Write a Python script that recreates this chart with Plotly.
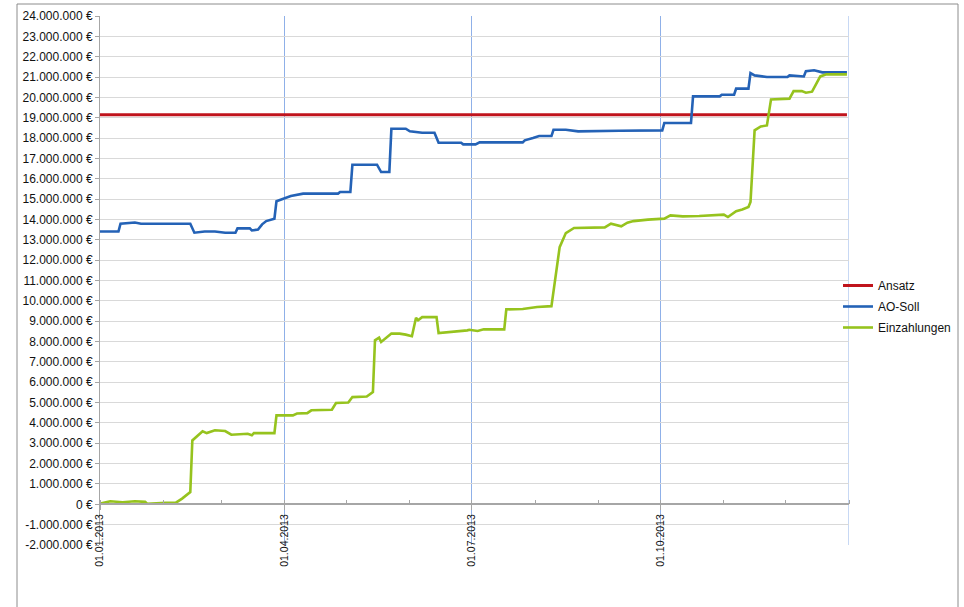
import plotly.graph_objects as go

# ---------------- data ----------------
ansatz_dates = ["2013-01-01", "2013-12-31"]
ansatz_values = [19150000, 19150000]

ao_soll_dates = [
    "2013-01-01", "2013-01-10", "2013-01-11", "2013-01-18", "2013-01-21", "2013-02-14",
    "2013-02-16", "2013-02-21", "2013-02-26", "2013-03-03", "2013-03-08", "2013-03-09",
    "2013-03-15", "2013-03-16", "2013-03-19", "2013-03-21", "2013-03-23", "2013-03-27",
    "2013-03-28", "2013-03-30", "2013-04-04", "2013-04-10", "2013-04-27", "2013-04-28",
    "2013-05-03", "2013-05-04", "2013-05-16", "2013-05-18", "2013-05-22", "2013-05-23",
    "2013-05-30", "2013-06-01", "2013-06-07", "2013-06-13", "2013-06-15", "2013-06-26",
    "2013-06-27", "2013-07-03", "2013-07-05", "2013-07-26", "2013-07-27", "2013-07-31",
    "2013-08-03", "2013-08-09", "2013-08-10", "2013-08-16", "2013-08-22", "2013-09-11",
    "2013-10-02", "2013-10-03", "2013-10-16", "2013-10-17", "2013-10-30", "2013-10-31",
    "2013-11-06", "2013-11-07", "2013-11-13", "2013-11-14", "2013-11-16", "2013-11-22",
    "2013-12-02", "2013-12-03", "2013-12-10", "2013-12-11", "2013-12-15", "2013-12-19",
    "2013-12-31",
]
ao_soll_values = [
    13410000, 13410000, 13790000, 13850000, 13790000, 13790000,
    13350000, 13410000, 13410000, 13350000, 13350000, 13560000,
    13560000, 13460000, 13500000, 13760000, 13920000, 14040000,
    14900000, 14970000, 15150000, 15270000, 15270000, 15350000,
    15350000, 16690000, 16690000, 16330000, 16330000, 18460000,
    18460000, 18330000, 18260000, 18260000, 17770000, 17770000,
    17690000, 17690000, 17790000, 17790000, 17890000, 18000000,
    18100000, 18100000, 18410000, 18410000, 18330000, 18360000,
    18380000, 18740000, 18740000, 20050000, 20050000, 20130000,
    20130000, 20430000, 20430000, 21190000, 21080000, 21000000,
    21000000, 21080000, 21030000, 21290000, 21330000, 21230000,
    21230000,
]

einzahlungen_dates = [
    "2013-01-01", "2013-01-06", "2013-01-12", "2013-01-18", "2013-01-23", "2013-01-24",
    "2013-02-02", "2013-02-07", "2013-02-10", "2013-02-14", "2013-02-15", "2013-02-20",
    "2013-02-22", "2013-02-26", "2013-03-03", "2013-03-06", "2013-03-14", "2013-03-16",
    "2013-03-17", "2013-03-27", "2013-03-28", "2013-04-05", "2013-04-07", "2013-04-12",
    "2013-04-14", "2013-04-24", "2013-04-26", "2013-05-02", "2013-05-04", "2013-05-11",
    "2013-05-14", "2013-05-15", "2013-05-17", "2013-05-18", "2013-05-23", "2013-05-27",
    "2013-05-30", "2013-06-02", "2013-06-04", "2013-06-05", "2013-06-07", "2013-06-14",
    "2013-06-15", "2013-06-22", "2013-06-29", "2013-06-30", "2013-07-04", "2013-07-07",
    "2013-07-17", "2013-07-18", "2013-07-26", "2013-08-02", "2013-08-09", "2013-08-13",
    "2013-08-14", "2013-08-16", "2013-08-20", "2013-09-04", "2013-09-07", "2013-09-09",
    "2013-09-12", "2013-09-15", "2013-09-18", "2013-09-25", "2013-10-03", "2013-10-06",
    "2013-10-12", "2013-10-20", "2013-10-29", "2013-11-01", "2013-11-03", "2013-11-07",
    "2013-11-10", "2013-11-13", "2013-11-14", "2013-11-16", "2013-11-19", "2013-11-22",
    "2013-11-24", "2013-12-03", "2013-12-05", "2013-12-09", "2013-12-11", "2013-12-14",
    "2013-12-18", "2013-12-21", "2013-12-31",
]
einzahlungen_values = [
    30000, 150000, 100000, 150000, 120000, 30000,
    70000, 80000, 280000, 600000, 3140000, 3590000,
    3500000, 3640000, 3600000, 3420000, 3470000, 3390000,
    3500000, 3500000, 4370000, 4370000, 4460000, 4480000,
    4620000, 4650000, 4980000, 5000000, 5270000, 5300000,
    5520000, 8060000, 8190000, 7980000, 8390000, 8390000,
    8340000, 8260000, 9170000, 9050000, 9200000, 9200000,
    8420000, 8470000, 8550000, 8580000, 8520000, 8600000,
    8600000, 9580000, 9600000, 9700000, 9740000, 12640000,
    12890000, 13330000, 13580000, 13610000, 13790000, 13740000,
    13660000, 13840000, 13920000, 13990000, 14040000, 14200000,
    14150000, 14170000, 14200000, 14240000, 14120000, 14410000,
    14490000, 14610000, 14860000, 18380000, 18570000, 18620000,
    19900000, 19940000, 20310000, 20310000, 20230000, 20280000,
    21030000, 21130000, 21130000,
]

x_tick_dates = ["2013-01-01", "2013-04-01", "2013-07-01", "2013-10-01"]
x_tick_labels = ["01.01.2013", "01.04.2013", "01.07.2013", "01.10.2013"]
x_range = ["2013-01-01", "2014-01-01"]

y_tick_values = [v * 1000000 for v in range(-2, 25)]
y_range = [-2000000, 24000000]


def euro_label(v):
    s = f"{abs(v):,}".replace(",", ".")
    return ("-" if v < 0 else "") + s + " €"


y_tick_labels = [euro_label(v) for v in y_tick_values]

# ---------------- styling ----------------
RED = "#C0141C"
BLUE = "#2462B6"
GREEN = "#96C31E"
VGRID = "#8FB0E8"
FONT = "Liberation Sans"
TXT = "#111111"

W, H = 964, 607
ML, MR, MT, MB = 100, 115, 16, 62
PW, PH = W - ML - MR, H - MT - MB


def px_x(p):
    return (p - ML) / PW


def px_y(p):
    return (H - MB - p) / PH


fig = go.Figure()
fig.add_trace(go.Scatter(x=ansatz_dates, y=ansatz_values, mode="lines", name="Ansatz",
                         legendgroup="a", line=dict(color=RED, width=3)))
fig.add_trace(go.Scatter(x=ao_soll_dates, y=ao_soll_values, mode="lines", name="AO-Soll",
                         legendgroup="b", line=dict(color=BLUE, width=2.6)))
fig.add_trace(go.Scatter(x=einzahlungen_dates, y=einzahlungen_values, mode="lines",
                         name="Einzahlungen", legendgroup="c",
                         line=dict(color=GREEN, width=2.6)))

zero_pos = (0 - y_range[0]) / (y_range[1] - y_range[0])

fig.update_layout(
    width=W, height=H,
    margin=dict(l=ML, r=MR, t=MT, b=MB, autoexpand=False),
    paper_bgcolor="white", plot_bgcolor="white",
    font=dict(family=FONT, size=12, color=TXT),
    showlegend=True,
    legend=dict(x=px_x(838), y=px_y(271), xanchor="left", yanchor="top",
                bgcolor="rgba(0,0,0,0)", borderwidth=0,
                font=dict(family=FONT, size=12, color=TXT),
                traceorder="grouped", tracegroupgap=2),
    xaxis=dict(
        type="date", range=x_range, automargin=False,
        tickmode="array", tickvals=x_tick_dates, ticktext=x_tick_labels,
        tickangle=-90, tickfont=dict(family=FONT, size=10.5, color=TXT),
        showgrid=True, gridcolor=VGRID, gridwidth=1,
        showline=True, linecolor="#A6A6A6", linewidth=1.5,
        ticks="outside", ticklen=5, tickcolor="#A6A6A6",
        minor=dict(tickmode="linear", tick0="2013-01-01", dtick="M1",
                   ticks="inside", ticklen=4, tickcolor="#A6A6A6", showgrid=False),
        anchor="free", position=zero_pos,
        zeroline=False,
    ),
    yaxis=dict(
        range=y_range, automargin=False,
        tickmode="array", tickvals=y_tick_values, ticktext=y_tick_labels,
        tickfont=dict(family=FONT, size=12, color=TXT),
        showgrid=True, gridcolor="#D9D9D9", gridwidth=1,
        showline=True, linecolor="#A6A6A6", linewidth=1,
        ticks="outside", ticklen=4, tickcolor="#A6A6A6",
        zeroline=False,
    ),
    shapes=[
        # right edge gridline
        dict(type="line", xref="x", yref="y", x0=x_range[1], x1=x_range[1],
             y0=y_range[0], y1=y_range[1], line=dict(color=VGRID, width=1), layer="below"),
        # outer chart border
        dict(type="rect", xref="paper", yref="paper",
             x0=px_x(17), x1=px_x(958), y0=px_y(612), y1=px_y(4),
             line=dict(color="#8C8C8C", width=1), fillcolor="rgba(0,0,0,0)"),
    ],
)

fig.write_html("out.html", config={"displayModeBar": False},
               post_script="document.body.style.margin='0';document.body.style.overflow='hidden';")
